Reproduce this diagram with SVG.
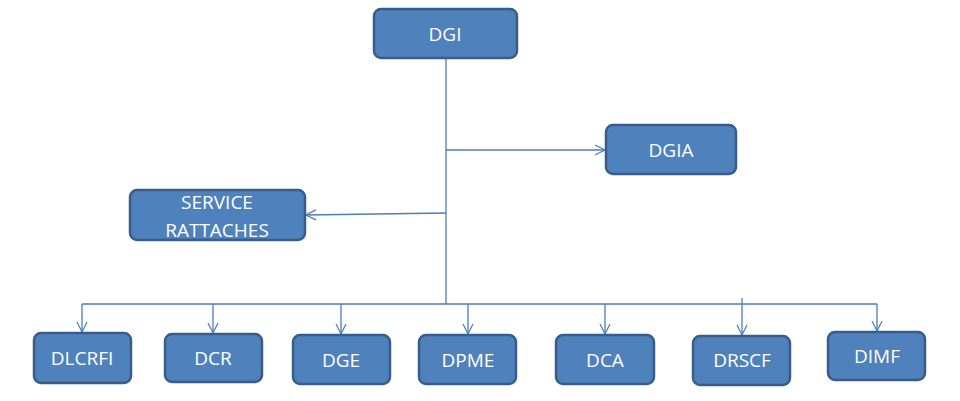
<svg xmlns="http://www.w3.org/2000/svg" width="960" height="401" viewBox="0 0 960 401">
<defs>
<marker id="a" markerWidth="12" markerHeight="12" refX="11" refY="6" orient="auto" markerUnits="userSpaceOnUse"><path d="M1,1 L11,6 L1,11" fill="none" stroke="#4a7ebb" stroke-width="1.2"/></marker>
</defs>
<style>
.b{fill:#4f81bd;stroke:#385d8a;stroke-width:2.5}
.t{fill:#fff;font-family:"Open Sans","Liberation Sans",sans-serif;font-size:19px;text-anchor:middle;dominant-baseline:central}
.c{stroke:#4a7ebb;stroke-width:1.3;fill:none}
</style>
<rect width="960" height="401" fill="#fff"/>
<g id="connectors">
<path class="c" d="M446,58 V304"/>
<path class="c" d="M446,150 H605" marker-end="url(#a)"/>
<path class="c" d="M446,213 L306,215" marker-end="url(#a)"/>
<path class="c" d="M82,304 H877"/>
<path class="c" d="M82,304 V332" marker-end="url(#a)"/>
<path class="c" d="M213,304 V333" marker-end="url(#a)"/>
<path class="c" d="M341,304 V334" marker-end="url(#a)"/>
<path class="c" d="M468,304 V334" marker-end="url(#a)"/>
<path class="c" d="M605,304 V334" marker-end="url(#a)"/>
<path class="c" d="M742,298 V335" marker-end="url(#a)"/>
<path class="c" d="M877,304 V331" marker-end="url(#a)"/>
</g>
<g id="DGI"><rect class="b" x="374" y="9" width="143" height="49" rx="7"/><text class="t" x="445" y="34">DGI</text></g>
<g id="DGIA"><rect class="b" x="606" y="125" width="130" height="49" rx="7"/><text class="t" x="671" y="150">DGIA</text></g>
<g id="SERVICE"><rect class="b" x="130" y="190" width="175" height="50" rx="7"/><text class="t" x="217" y="202">SERVICE</text><text class="t" x="217" y="230">RATTACHES</text></g>
<g id="DLCRFI"><rect class="b" x="34" y="333" width="97" height="50" rx="7"/><text class="t" x="82" y="358">DLCRFI</text></g>
<g id="DCR"><rect class="b" x="165" y="334" width="97" height="48" rx="7"/><text class="t" x="213" y="358">DCR</text></g>
<g id="DGE"><rect class="b" x="293" y="335" width="97" height="49" rx="7"/><text class="t" x="341" y="360">DGE</text></g>
<g id="DPME"><rect class="b" x="419" y="335" width="97" height="49" rx="7"/><text class="t" x="468" y="360">DPME</text></g>
<g id="DCA"><rect class="b" x="556" y="335" width="98" height="49" rx="7"/><text class="t" x="605" y="360">DCA</text></g>
<g id="DRSCF"><rect class="b" x="693" y="336" width="97" height="49" rx="7"/><text class="t" x="742" y="360">DRSCF</text></g>
<g id="DIMF"><rect class="b" x="828" y="332" width="97" height="48" rx="7"/><text class="t" x="877" y="356">DIMF</text></g>
</svg>
